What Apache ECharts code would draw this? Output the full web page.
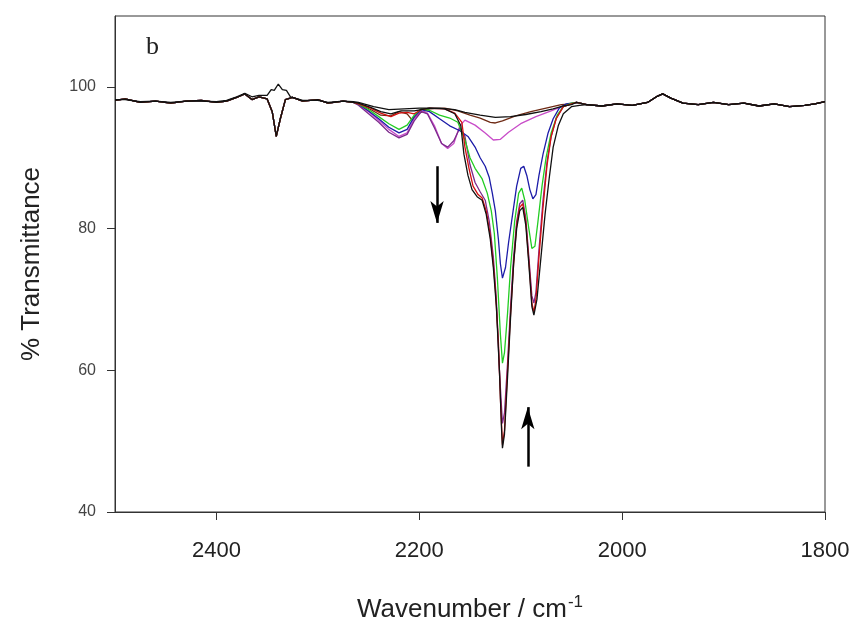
<!DOCTYPE html>
<html>
<head>
<meta charset="utf-8">
<script src="https://cdn.jsdelivr.net/npm/echarts@6/dist/echarts.min.js"></script>
<style>
  html,body{margin:0;padding:0;background:#fff;}
  #chart{width:861px;height:637px;}
</style>
</head>
<body>
<div id="chart"></div>
<script>
// baseline before the bands, shared by most spectra  [wavenumber, %T]
const basePre = [[2500,98.1],[2490,98.3],[2475,97.8],[2460,98.0],[2445,97.7],[2430,98.0],[2415,98.1],[2400,97.8],[2390,98.0],[2380,98.5],[2372,99.0],[2365,98.2],[2358,98.6],[2350,98.3],[2345,96.5],[2341,93.0],[2337,95.5],[2332,98.2],[2325,98.5],[2315,98.0],[2300,98.2],[2290,97.7],[2275,98.0],[2265,97.8]]
// black (top) spectrum has a positive band at 2340
const blackPre = [[2500,98.2],[2490,98.2],[2475,97.9],[2460,98.0],[2445,97.8],[2430,98.0],[2415,98.0],[2400,97.9],[2390,98.1],[2380,98.6],[2372,99.1],[2365,98.6],[2358,98.8],[2350,98.8],[2346,99.6],[2343,99.5],[2339,100.4],[2335,99.6],[2331,99.5],[2327,98.6],[2315,98.1],[2300,98.1],[2290,97.8],[2275,98.0],[2265,97.9]]
// after the bands, shared
const basePost = [[2045,97.8],[2035,97.5],[2020,97.3],[2005,97.6],[1990,97.4],[1975,97.8],[1965,98.7],[1960,99.0],[1952,98.4],[1940,97.7],[1925,97.5],[1910,97.8],[1895,97.5],[1880,97.7],[1865,97.3],[1850,97.6],[1835,97.2],[1820,97.4],[1810,97.6],[1800,97.9]]

const blackTop = [[2260,97.8],[2245,97.2],[2230,96.8],[2215,96.9],[2200,97.0],[2180,97.0],[2165,96.8],[2155,96.4],[2140,96.0],[2125,95.7],[2110,95.8],[2095,96.1],[2080,96.5],[2068,96.9],[2058,97.3],[2050,97.5]]
const brown = [[2260,97.6],[2248,96.8],[2238,96.0],[2228,95.9],[2220,96.5],[2212,96.2],[2207,95.3],[2200,96.3],[2190,96.9],[2175,97.0],[2162,96.6],[2150,96.0],[2140,95.6],[2130,95.0],[2125,94.9],[2118,95.2],[2105,95.9],[2090,96.5],[2075,97.0],[2060,97.5],[2050,97.6]]
const magenta = [[2260,97.5],[2250,96.5],[2240,95.3],[2230,94.0],[2220,93.0],[2212,93.5],[2205,95.5],[2198,96.6],[2192,96.3],[2185,94.5],[2178,92.0],[2172,91.3],[2166,92.0],[2160,94.5],[2155,95.3],[2145,94.6],[2135,93.5],[2127,92.5],[2120,92.6],[2112,93.6],[2100,94.8],[2085,95.8],[2070,96.6],[2058,97.3],[2050,97.6]]
const purple = [[2260,97.4],[2250,96.2],[2240,95.0],[2230,93.6],[2220,92.8],[2212,93.3],[2205,95.2],[2198,96.5],[2192,96.2],[2185,94.2],[2178,92.0],[2172,91.5],[2166,92.4],[2160,94.2],[2155,93.0],[2150,89.0],[2145,86.5],[2140,85.2],[2135,84.0],[2131,81.0],[2127,76.0],[2124,70.0],[2121,60.0],[2118,52.5],[2116,54.0],[2113,61.0],[2110,69.0],[2107,76.0],[2104,81.0],[2101,83.5],[2098,84.0],[2095,81.5],[2092,76.0],[2089,70.5],[2087,69.5],[2085,71.0],[2082,77.0],[2078,84.0],[2074,89.5],[2070,93.0],[2065,95.6],[2058,97.2],[2050,97.6]]
const blue = [[2260,97.6],[2250,96.6],[2240,95.5],[2230,94.3],[2220,93.5],[2212,94.0],[2205,95.8],[2198,96.8],[2190,96.5],[2180,95.5],[2170,94.5],[2160,93.8],[2152,93.0],[2145,91.5],[2140,90.0],[2135,88.8],[2131,87.2],[2128,85.0],[2125,82.5],[2122,78.5],[2120,75.0],[2118,73.0],[2115,74.5],[2112,78.0],[2108,82.0],[2104,86.0],[2100,88.5],[2097,88.8],[2094,87.5],[2091,85.5],[2088,84.2],[2085,84.8],[2082,87.5],[2078,90.5],[2073,93.5],[2068,95.5],[2062,97.0],[2055,97.6],[2050,97.7]]
const green = [[2260,97.6],[2250,96.8],[2240,95.8],[2230,94.8],[2220,94.0],[2212,94.6],[2205,96.0],[2198,96.9],[2190,96.7],[2180,96.0],[2170,95.6],[2162,95.0],[2155,92.5],[2150,90.0],[2145,88.5],[2138,87.0],[2133,85.0],[2129,82.5],[2126,79.3],[2123,73.0],[2120,65.0],[2118,61.0],[2116,62.5],[2113,68.0],[2110,74.5],[2106,81.0],[2102,85.0],[2099,85.7],[2096,84.0],[2092,80.0],[2089,77.2],[2086,77.5],[2083,81.0],[2079,86.0],[2075,90.0],[2070,93.5],[2064,96.0],[2058,97.2],[2050,97.7]]
const red = [[2260,97.6],[2248,97.0],[2238,96.3],[2228,95.8],[2220,96.3],[2212,96.4],[2205,96.2],[2198,96.8],[2190,97.0],[2175,96.9],[2165,96.3],[2158,95.0],[2155,91.5],[2151,88.5],[2147,86.0],[2142,84.8],[2138,84.3],[2134,82.5],[2130,79.0],[2127,75.0],[2125,71.5],[2122,64.0],[2120,56.0],[2118,49.5],[2116,51.5],[2113,60.0],[2110,68.0],[2107,75.0],[2104,80.5],[2101,83.0],[2098,83.5],[2095,81.0],[2092,75.5],[2089,69.5],[2087,68.2],[2085,70.0],[2082,76.0],[2078,83.0],[2074,89.0],[2070,93.0],[2065,95.5],[2058,97.2],[2050,97.6]]
const blackDeep = [[2260,97.7],[2248,97.1],[2238,96.5],[2228,96.2],[2218,96.6],[2205,96.6],[2190,97.0],[2175,96.9],[2165,96.2],[2159,94.5],[2156,90.5],[2152,87.5],[2148,85.5],[2143,84.5],[2138,84.0],[2134,82.0],[2130,78.5],[2127,74.5],[2124,69.0],[2121,60.0],[2119,52.0],[2118,49.0],[2116,51.0],[2113,59.0],[2110,67.5],[2107,75.0],[2104,80.0],[2101,82.5],[2098,83.0],[2095,80.5],[2092,75.0],[2089,69.0],[2087,67.8],[2084,70.0],[2080,76.0],[2076,82.0],[2072,87.0],[2068,91.5],[2063,94.5],[2058,96.2],[2050,97.2],[2042,97.4]]

const xTicks = [2400, 2200, 2000, 1800]
const yTicks = [40, 60, 80, 100]
// arrow annotations, [wavenumber, %T] from tail to head
const arrowDown = [[2182.5, 88.8], [2182.5, 80.8]]
const arrowUp = [[2093, 46.4], [2093, 54.8]]

const chart = echarts.init(document.getElementById('chart'))
const font = '"Liberation Sans", Arial, sans-serif'

function line(name, color, pre, mid, post, extra){
  return Object.assign({
    name: name,
    type: 'line',
    data: pre.concat(mid, post),
    showSymbol: false,
    symbol: 'none',
    lineStyle: {color: color, width: 1.3},
    itemStyle: {color: color},
    animation: false
  }, extra || {})
}

const option = {
  backgroundColor: '#fff',
  grid: {left: 115, right: 36, top: 16, bottom: 125, show: true, borderColor: '#333', borderWidth: 1},
  xAxis: {
    type: 'value', min: 1800, max: 2500, interval: 200, inverse: true,
    name: '{a|Wavenumber / cm}{s|-1}', nameLocation: 'middle', nameGap: 82,
    nameTextStyle: {
      rich: {
        a: {fontSize: 26, color: '#222', fontFamily: font},
        s: {fontSize: 17, color: '#222', fontFamily: font, verticalAlign: 'top', padding: [0, 0, 14, 1]}
      }
    },
    axisLine: {lineStyle: {color: '#333'}},
    axisTick: {inside: false, length: 8, lineStyle: {color: '#333'}, customValues: xTicks},
    axisLabel: {fontSize: 22, color: '#222', fontFamily: font, margin: 28, customValues: xTicks,
      formatter: v => String(v)},
    splitLine: {show: false}
  },
  yAxis: {
    type: 'value', min: 40, max: 110, interval: 20,
    name: '% Transmittance', nameLocation: 'middle', nameGap: 70,
    nameTextStyle: {fontSize: 26, color: '#222', fontFamily: font},
    axisLine: {show: true, lineStyle: {color: '#333'}},
    axisTick: {show: true, length: 8, lineStyle: {color: '#333'}, customValues: yTicks},
    axisLabel: {fontSize: 16, color: '#444', fontFamily: font, margin: 19, customValues: yTicks,
      formatter: v => String(v)},
    splitLine: {show: false}
  },
  graphic: [{
    type: 'text', left: 146, top: 34,
    style: {text: 'b', fontSize: 26, fontFamily: '"Liberation Serif", "DejaVu Serif", serif', fill: '#222'}
  }],
  series: [
    line('brown', '#6e2a14', basePre, brown, basePost),
    line('magenta', '#c84cc8', basePre, magenta, basePost),
    line('purple', '#7c2a8c', basePre, purple, basePost),
    line('blue', '#1c1ca8', basePre, blue, basePost),
    line('green', '#22cc22', basePre, green, basePost),
    line('red', '#d41010', basePre, red, basePost),
    line('black2', '#111', basePre, blackDeep, basePost.slice(1), {
      markLine: {
        silent: true, animation: false,
        symbol: ['none', 'arrow'], symbolSize: [10, 22],
        label: {show: false},
        lineStyle: {color: '#000', width: 2.5, type: 'solid'},
        data: [
          [{coord: arrowDown[0]}, {coord: arrowDown[1]}],
          [{coord: arrowUp[0]}, {coord: arrowUp[1]}]
        ]
      }
    }),
    line('black1', '#111', blackPre, blackTop, basePost)
  ]
}
chart.setOption(option)
</script>
</body>
</html>
